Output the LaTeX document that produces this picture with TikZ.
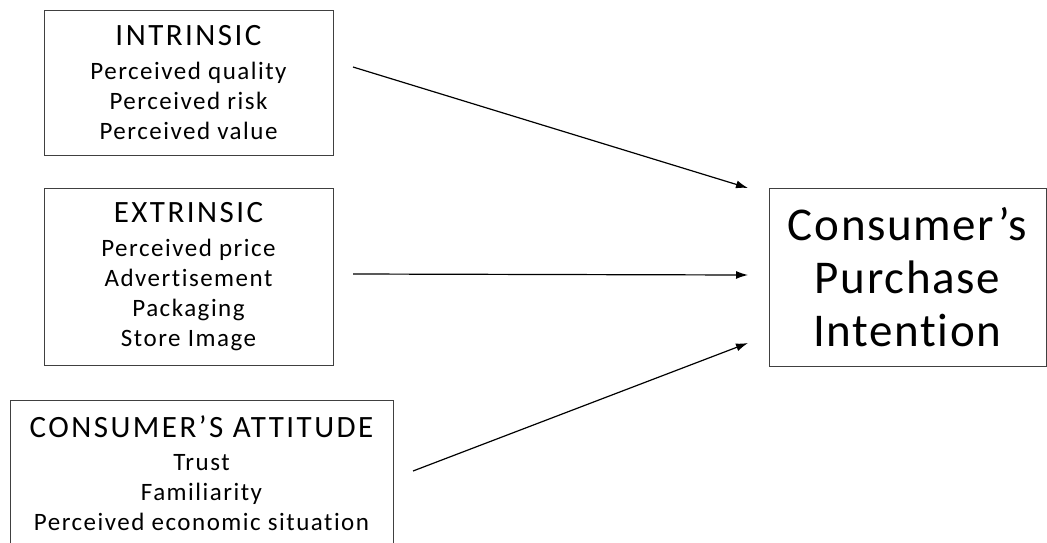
\documentclass[tikz,border=0pt]{standalone}
\usepackage{fontspec}
\setmainfont{Carlito}[Ligatures={NoCommon}]
\usetikzlibrary{arrows.meta}
\tikzset{
  factor/.style={draw=black!75, line width=1pt, align=center, inner sep=0pt,
    font=\fontsize{25}{30}\selectfont\addfontfeatures{LetterSpace=6}},
  link/.style={line width=1.2pt, -{Latex[length=12pt,width=8pt]}}
}
\newcommand{\headline}[1]{{\fontsize{31}{34}\selectfont\addfontfeatures{LetterSpace=8}#1}}

\begin{document}
\begin{tikzpicture}[x=1pt, y=-1pt]
	\useasboundingbox (0,0) rectangle (1047,542);
	\node [factor, minimum width=289pt, minimum height=145pt] (intrinsic) at (188.5,82.5)
		{\headline{INTRINSIC}\\[4pt]Perceived quality\\Perceived risk\\Perceived value};
	\node [factor, minimum width=289pt, minimum height=177pt] (extrinsic) at (188.5,276.5)
		{\headline{EXTRINSIC}\\[4pt]Perceived price\\Advertisement\\Packaging\\Store Image};
	% bottom edge runs off the page
	\node [factor, minimum width=383pt, minimum height=146pt] (attitude) at (201.5,473)
		{\headline{CONSUMER’S ATTITUDE}\\[3pt]Trust\\Familiarity\\Perceived economic situation};
	\node [factor, minimum width=277pt, minimum height=178pt,
		font=\fontsize{47}{53}\selectfont\addfontfeatures{LetterSpace=3.5}]
		(intention) at (907.5,277) {Consumer’s\\Purchase\\Intention};
	% arrows stop short of the boxes
	\coordinate (s1) at (353,67);
	\coordinate (e1) at (748,188);
	\coordinate (s2) at (353,274);
	\coordinate (e2) at (748,275);
	\coordinate (s3) at (413,471);
	\coordinate (e3) at (748,343);
	\draw [link] (s1) -- (e1);
	\draw [link] (s2) -- (e2);
	\draw [link] (s3) -- (e3);
\end{tikzpicture}
\end{document}
